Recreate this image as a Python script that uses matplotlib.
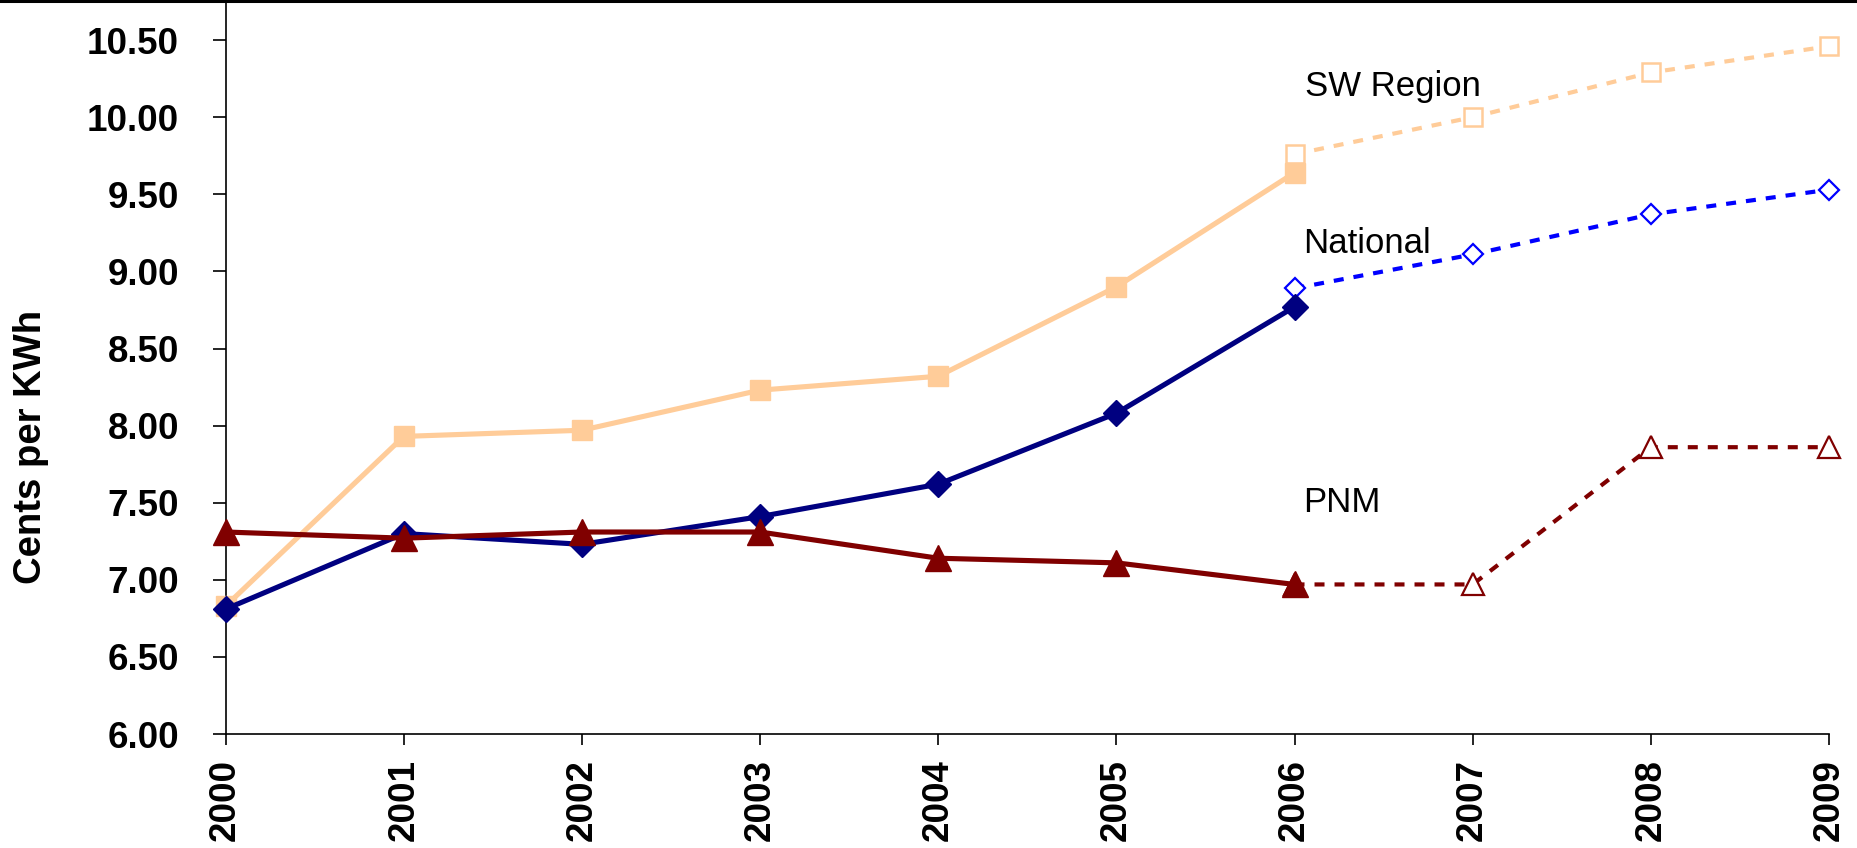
import matplotlib
matplotlib.use("Agg")
import matplotlib.pyplot as plt
from matplotlib.lines import Line2D

# actual rates, cents per KWh
years = [2000, 2001, 2002, 2003, 2004, 2005, 2006]
sw_region = [6.83, 7.93, 7.97, 8.23, 8.32, 8.90, 9.64]
national = [6.81, 7.30, 7.23, 7.41, 7.62, 8.08, 8.77]
pnm = [7.31, 7.27, 7.31, 7.31, 7.14, 7.11, 6.97]

# projected rates
proj_years = [2006, 2007, 2008, 2009]
sw_proj = [9.76, 10.00, 10.29, 10.46]
national_proj = [8.89, 9.11, 9.37, 9.53]
pnm_proj = [6.97, 6.97, 7.86, 7.86]

year_ticks = list(range(2000, 2010))
y_ticks = [6.00, 6.50, 7.00, 7.50, 8.00, 8.50, 9.00, 9.50, 10.00, 10.50]

peach = "#FFCC99"
navy = "#000080"
blue = "#0000FF"
maroon = "#800000"

plt.rcParams['font.family'] = ['Liberation Sans', 'DejaVu Sans']

fig = plt.figure(figsize=(18.57, 8.48), dpi=100)
ax = fig.add_axes([0.1215, 0.1344, 0.8634, 0.8656])

dash = (0, (2.4, 2.4))

# SW region
ax.plot(proj_years, sw_proj, color=peach, lw=3, linestyle=dash, marker='s',
        ms=13, mfc='white', mec=peach, mew=1.8, zorder=2, clip_on=False)
ax.plot(years, sw_region, color=peach, lw=3.7, marker='s', ms=14,
        mfc=peach, mec=peach, zorder=3, clip_on=False)

# national
ax.plot(proj_years, national_proj, color=blue, lw=3, linestyle=dash, marker='D',
        ms=10.5, mfc='white', mec=blue, mew=1.6, zorder=4, clip_on=False)
ax.plot(years, national, color=navy, lw=3.7, marker='D', ms=13,
        mfc=navy, mec=navy, zorder=5, clip_on=False)

# PNM
ax.plot(proj_years, pnm_proj, color=maroon, lw=3, linestyle=dash, marker='^',
        ms=16.5, mfc='white', mec=maroon, mew=1.6, zorder=6, clip_on=False)
ax.plot(years, pnm, color=maroon, lw=3.7, marker='^', ms=19,
        mfc=maroon, mec=maroon, zorder=7, clip_on=False)

ax.text(2006.06, 10.20, "SW Region", fontsize=25, va='center', ha='left')
ax.text(2006.05, 9.18, "National", fontsize=25, va='center', ha='left')
ax.text(2006.05, 7.50, "PNM", fontsize=25, va='center', ha='left')

ax.set_xlim(2000, 2009)
ax.set_ylim(6.0, 10.76)
ax.set_xticks(year_ticks)
ax.set_xticklabels([str(y) for y in year_ticks], rotation=90, fontsize=26.5,
                   fontweight='bold')
ax.set_yticks(y_ticks)
ax.set_yticklabels([f"{v:.2f}" for v in y_ticks], fontsize=26.5, fontweight='bold')
ax.tick_params(axis='y', direction='out', length=9.5, width=1.2, pad=24)
ax.tick_params(axis='x', direction='out', length=8, width=1.2, pad=10)

for side in ['top', 'right']:
    ax.spines[side].set_visible(False)
for side in ['left', 'bottom']:
    ax.spines[side].set_linewidth(1.2)

ax.set_ylabel("Cents per KWh", fontsize=27.5, fontweight='bold')
ax.yaxis.set_label_coords(-0.11, 0.391)

# border line along the top edge
fig.add_artist(Line2D([0, 1], [0.9985, 0.9985], transform=fig.transFigure,
                      color='black', lw=2.2))

fig.savefig("out.png", dpi=100)
